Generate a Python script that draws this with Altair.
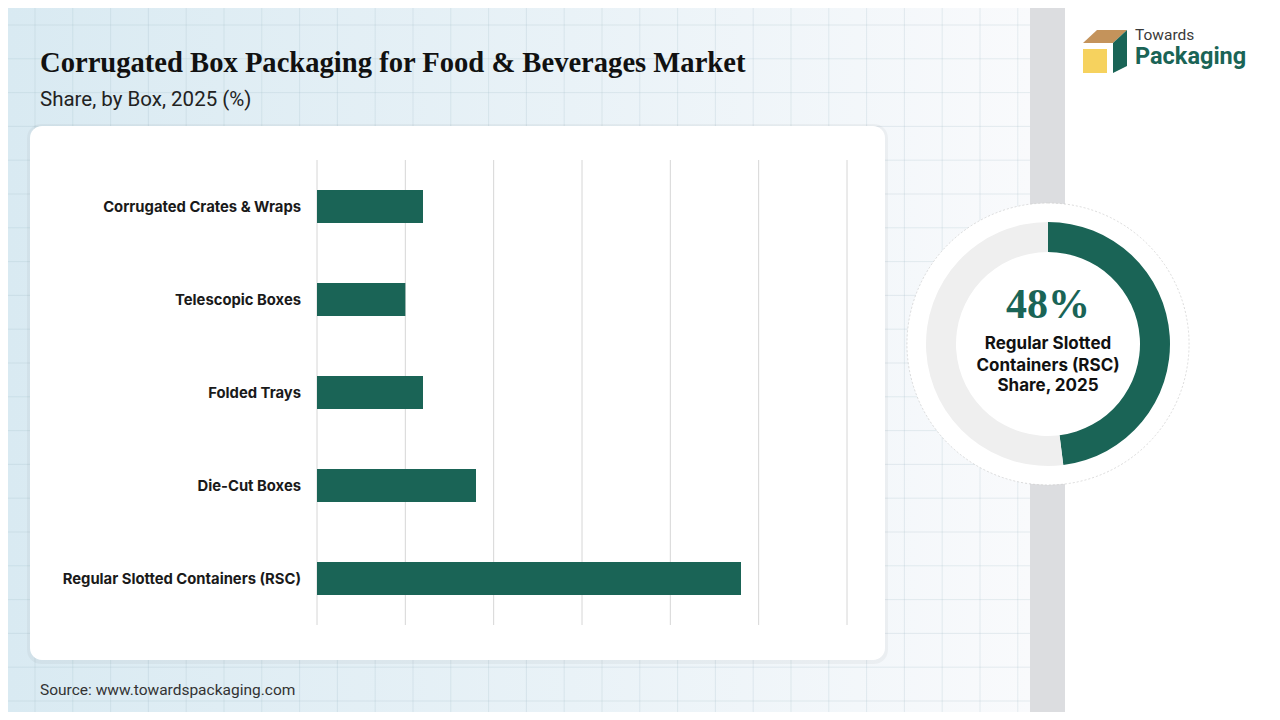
import altair as alt
import pandas as pd

# ---------------- data ----------------
categories = [
    "Corrugated Crates & Wraps",
    "Telescopic Boxes",
    "Folded Trays",
    "Die-Cut Boxes",
    "Regular Slotted Containers (RSC)",
]
shares = [12, 10, 12, 18, 48]
tick_values = [0, 10, 20, 30, 40, 50, 60]

donut_names = ["Regular Slotted Containers (RSC)", "Others"]
donut_values = [48, 52]
donut_colors = ["#1a6456", "#efefef"]
donut_order = [0, 1]
donut_lines = ["Regular Slotted", "Containers (RSC)", "Share, 2025"]

title_text = "Corrugated Box Packaging for Food & Beverages Market"
subtitle_text = "Share, by Box, 2025 (%)"
source_text = "Source: www.towardspackaging.com"
headline_text = "48%"

GREEN = "#1a6456"
W, H = 1264, 704

bars_df = pd.DataFrame({"cat": categories, "share": shares})
ticks_df = pd.DataFrame({"v": tick_values})
donut_df = pd.DataFrame({"name": donut_names, "v": donut_values,
                         "c": donut_colors, "o": donut_order})
one = pd.DataFrame({"a": [0]})

# decorative background grid (pixel positions, style only)
gx = [27 + 37.8 * i for i in range(28) if 27 + 37.8 * i < 1022]
gy = [17 + 33.8 * i for i in range(22) if 17 + 33.8 * i < H]
gx_df = pd.DataFrame({"gx": gx})
gy_df = pd.DataFrame({"gy": gy})

xscale = alt.Scale(domain=[0, 60], range=[309, 839], nice=False, zero=True)
yscale = alt.Scale(domain=categories, range=[152, 617], paddingInner=0, paddingOuter=0)

base = alt.Chart(one)

bg = base.mark_rect(
    fill=alt.Gradient(
        gradient="linear",
        stops=[alt.GradientStop(color="#d9eaf2", offset=0),
               alt.GradientStop(color="#e9f2f7", offset=0.55),
               alt.GradientStop(color="#f9fafc", offset=1)],
        x1=0, x2=1, y1=0, y2=0,
    )
).encode(x=alt.value(0), x2=alt.value(1022), y=alt.value(0), y2=alt.value(H))

grid_v = alt.Chart(gx_df).mark_rule(color="#9db6c4", opacity=0.22, strokeWidth=1).encode(
    x=alt.X("gx:Q", scale=None), y=alt.value(0), y2=alt.value(H))
grid_h = alt.Chart(gy_df).mark_rule(color="#9db6c4", opacity=0.22, strokeWidth=1).encode(
    y=alt.Y("gy:Q", scale=None), x=alt.value(0), x2=alt.value(1022))

strip = base.mark_rect(fill="#dcdde0").encode(
    x=alt.value(1022), x2=alt.value(1057), y=alt.value(0), y2=alt.value(H))
right_white = base.mark_rect(fill="#ffffff").encode(
    x=alt.value(1057), x2=alt.value(W), y=alt.value(0), y2=alt.value(H))

shadow = base.mark_rect(fill="#000000", opacity=0.035, cornerRadius=14).encode(
    x=alt.value(19), x2=alt.value(880), y=alt.value(116), y2=alt.value(656))
card = base.mark_rect(fill="#ffffff", cornerRadius=12).encode(
    x=alt.value(22), x2=alt.value(877), y=alt.value(118), y2=alt.value(652))

gridlines = alt.Chart(ticks_df).mark_rule(color="#d6d6d6", strokeWidth=1).encode(
    x=alt.X("v:Q", scale=xscale, axis=None), y=alt.value(152), y2=alt.value(617))

bars = alt.Chart(bars_df).mark_bar(size=33, color=GREEN).encode(
    x=alt.X("share:Q", scale=xscale, axis=None),
    y=alt.Y("cat:N", sort=categories, scale=yscale, axis=None),
)

labels = alt.Chart(bars_df).mark_text(
    align="right", baseline="alphabetic", dy=5.5, font="Inter", fontSize=14.8,
    fontWeight="bold", color="#1a1a1a"
).encode(
    x=alt.value(293),
    y=alt.Y("cat:N", sort=categories, scale=yscale, axis=None),
    text="cat:N",
)

title = base.mark_text(align="left", baseline="alphabetic", font="Liberation Serif",
                       fontSize=28.6, fontWeight="bold", color="#111111").encode(
    x=alt.value(32), y=alt.value(64), text=alt.value(title_text))
subtitle = base.mark_text(align="left", baseline="alphabetic", font="Roboto",
                          fontSize=20.5, color="#222222").encode(
    x=alt.value(32), y=alt.value(98), text=alt.value(subtitle_text))
source = base.mark_text(align="left", baseline="alphabetic", font="Roboto",
                        fontSize=15.5, color="#333333").encode(
    x=alt.value(32), y=alt.value(687), text=alt.value(source_text))

CX, CY = 1040, 336
outer = base.mark_arc(radius=141, radius2=0, theta=0, theta2=6.2832, fill="#ffffff",
                      stroke="#d2d2d2", strokeWidth=0.8, strokeDash=[2, 2]).encode(
    x=alt.value(CX), y=alt.value(CY))
ring = alt.Chart(donut_df).mark_arc(radius=122, radius2=92, strokeWidth=0).encode(
    theta=alt.Theta("v:Q", stack=True, scale=alt.Scale(domain=[0, 100], range=[0, 6.283185])),
    color=alt.Color("c:N", scale=None),
    order=alt.Order("o:Q"),
    x=alt.value(CX), y=alt.value(CY),
)
headline = base.mark_text(align="center", baseline="alphabetic", font="Liberation Serif",
                          fontSize=42, fontWeight="bold", color=GREEN).encode(
    x=alt.value(CX), y=alt.value(310), text=alt.value(headline_text))
dl_df = pd.DataFrame({"t": donut_lines, "yy": [341, 362.5, 383]})
donut_text = alt.Chart(dl_df).mark_text(align="center", baseline="alphabetic", font="Inter",
                                        fontSize=17, fontWeight="bold", color="#111111").encode(
    x=alt.value(CX), y=alt.Y("yy:Q", scale=None), text="t:N")

# logo (decorative)
tan_path = "M1075,35 L1089,22 L1119,22 L1105,35 Z"
green_path = "M1105,35 L1119,22 L1119,58 L1105,65 Z"
logo_tan = base.mark_point(shape=tan_path, size=4, filled=True, fill="#c4935b",
                           strokeWidth=0, opacity=1).encode(x=alt.value(0), y=alt.value(0))
logo_green = base.mark_point(shape=green_path, size=4, filled=True, fill=GREEN,
                             strokeWidth=0, opacity=1).encode(x=alt.value(0), y=alt.value(0))
logo_yellow = base.mark_rect(fill="#f6d25e").encode(
    x=alt.value(1075), x2=alt.value(1099), y=alt.value(41), y2=alt.value(65))
towards = base.mark_text(align="left", baseline="alphabetic", font="Roboto",
                         fontSize=15.5, color="#3a3a3a").encode(
    x=alt.value(1127), y=alt.value(32), text=alt.value("Towards"))
packaging = base.mark_text(align="left", baseline="alphabetic", font="Roboto",
                           fontSize=23.5, fontWeight="bold", color=GREEN).encode(
    x=alt.value(1127), y=alt.value(56), text=alt.value("Packaging"))

chart = alt.layer(
    bg, grid_v, grid_h, strip, right_white, shadow, card,
    gridlines, bars, labels, title, subtitle, source,
    outer, ring, headline, donut_text,
    logo_tan, logo_green, logo_yellow, towards, packaging,
).resolve_scale(
    x="independent", y="independent", color="independent", theta="independent"
).properties(
    width=W, height=H, autosize=alt.AutoSizeParams(type="none"), padding=0,
    background="#ffffff",
).configure_view(stroke=None)

chart.save("out.html", embed_options={"renderer": "svg", "actions": False})
